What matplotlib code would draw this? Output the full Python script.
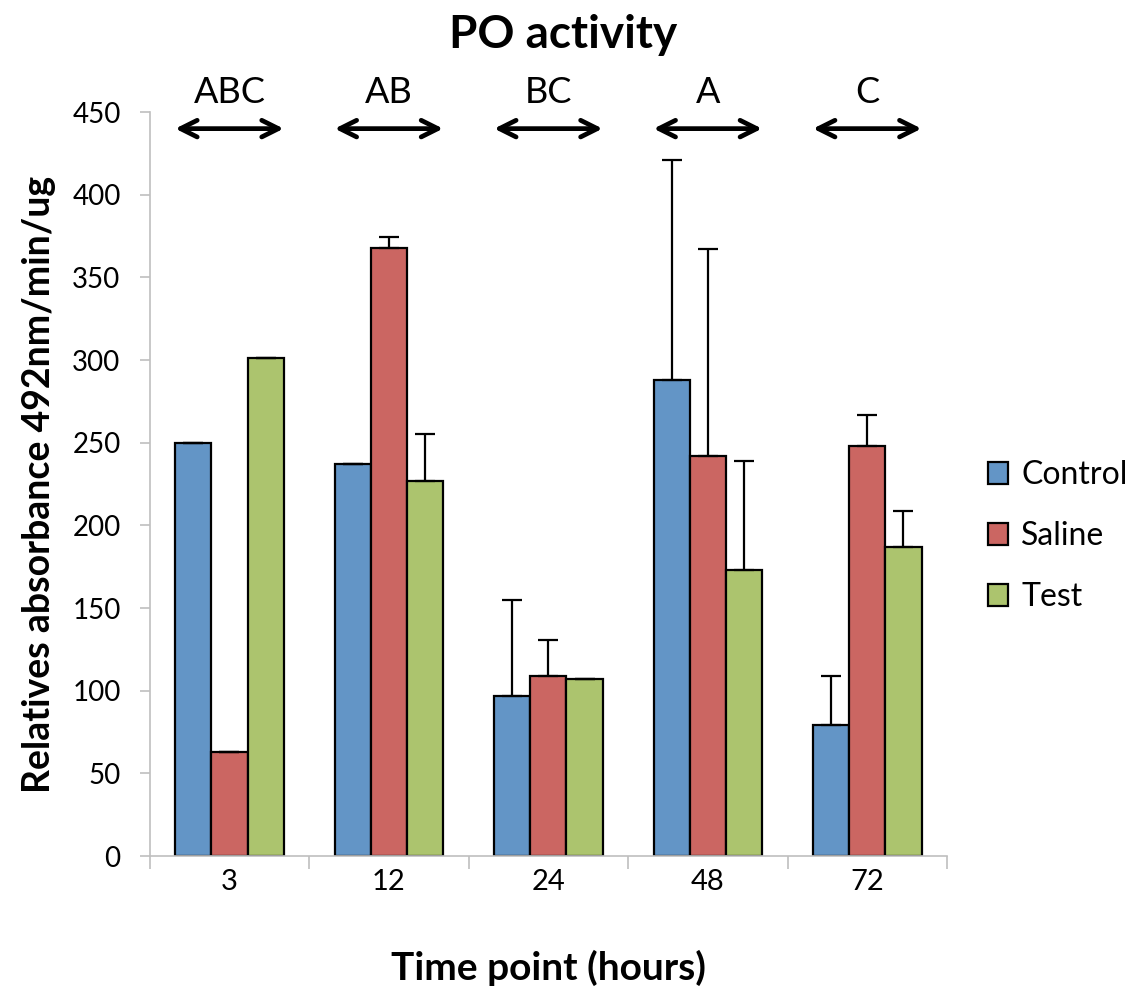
import matplotlib
matplotlib.use("Agg")
import matplotlib.pyplot as plt
import numpy as np

plt.rcParams['font.family'] = ['Lato', 'DejaVu Sans']

timepoints = ['3', '12', '24', '48', '72']
series_names = ['Control', 'Saline', 'Test']
control = [250, 237, 97, 288, 79]
control_err = [0, 0, 58, 133, 30]
saline = [63, 368, 109, 242, 248]
saline_err = [0, 6.5, 22, 125, 18.5]
test = [301, 227, 107, 173, 187]
test_err = [0, 28, 0, 66, 21.5]
letters = ['ABC', 'AB', 'BC', 'A', 'C']

colors = ['#6395c6', '#cb6662', '#acc46e']

fig = plt.figure(figsize=(11.43, 9.92), dpi=100)
ax = fig.add_axes([0.131, 0.137, 0.6975, 0.75])

x = np.arange(len(timepoints))
w = 0.227
for i, (vals, errs, c, name) in enumerate(zip([control, saline, test],
                                              [control_err, saline_err, test_err],
                                              colors, series_names)):
    pos = x + (i - 1) * w
    ax.bar(pos, vals, width=w, color=c, edgecolor='black', linewidth=1.6,
           label=name, zorder=2)
    ax.errorbar(pos, vals, yerr=[np.zeros(len(vals)), errs], fmt='none',
                ecolor='black', elinewidth=1.6, capsize=7, capthick=1.6, zorder=3)

ax.set_xlim(-0.5, 4.5)
ax.set_ylim(0, 450)
ax.set_yticks(np.arange(0, 451, 50))
ax.tick_params(axis='y', labelsize=20, length=7, color='#bfbfbf', width=1.2, pad=14)
ax.set_xticks(np.arange(-0.5, 4.6, 1.0))
ax.set_xticklabels([''] * 6)
ax.set_xticks(x, minor=True)
ax.set_xticklabels(timepoints, minor=True)
ax.tick_params(axis='x', which='major', length=9, color='#bfbfbf', width=1.2)
ax.tick_params(axis='x', which='minor', length=0, labelsize=21, pad=9)
for s in ['top', 'right']:
    ax.spines[s].set_visible(False)
for s in ['left', 'bottom']:
    ax.spines[s].set_color('#bfbfbf')
    ax.spines[s].set_linewidth(1.2)

ax.set_ylabel('Relatives absorbance 492nm/min/ug', fontsize=27, fontweight='bold', labelpad=12)
ax.set_xlabel('Time point (hours)', fontsize=28, fontweight='bold', labelpad=40)
fig.text(0.493, 0.965, 'PO activity', fontsize=33, fontweight='bold', ha='center', va='center')

for xi, lab in zip(x, letters):
    ax.annotate('', xy=(xi - 0.34, 440), xytext=(xi + 0.34, 440),
                arrowprops=dict(arrowstyle='<->', lw=3.4, color='black',
                                mutation_scale=30, shrinkA=0, shrinkB=0),
                annotation_clip=False)
    ax.text(xi, 462, lab, fontsize=26, ha='center', va='center', clip_on=False)

leg = ax.legend(loc='center left', bbox_to_anchor=(1.015, 0.43), frameon=False,
                fontsize=23, handlelength=0.65, handleheight=0.65, labelspacing=0.97,
                handletextpad=0.4)

fig.savefig('out.png', dpi=100)
